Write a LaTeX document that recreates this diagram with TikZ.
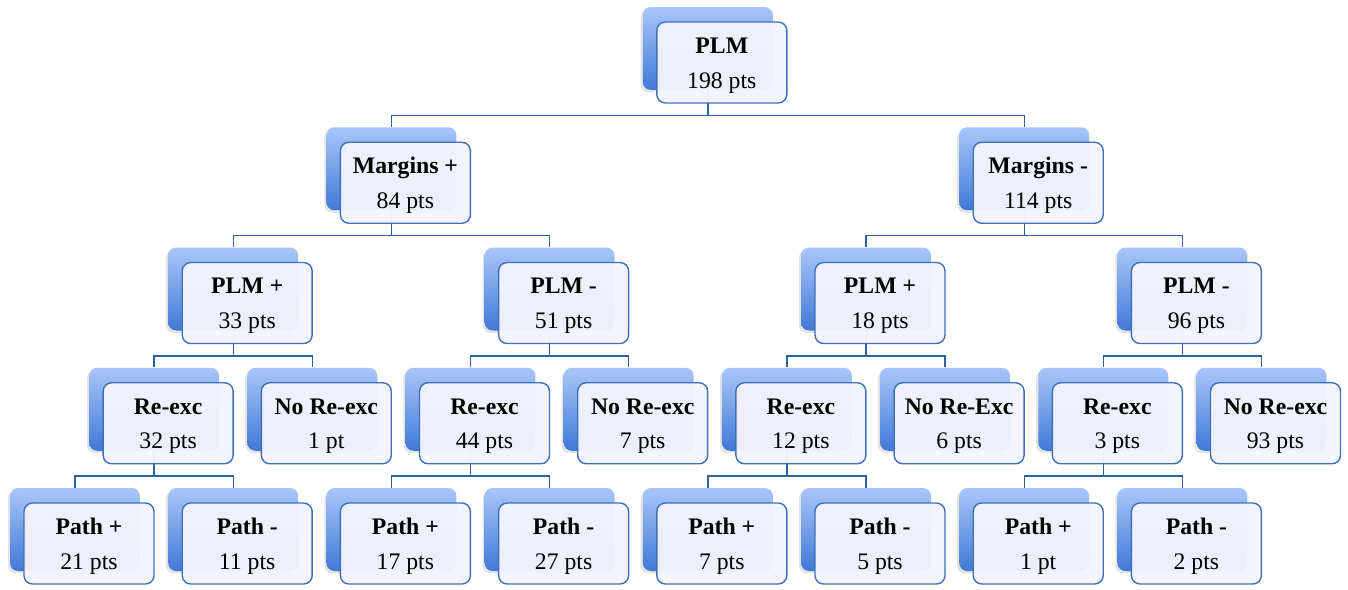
\documentclass[tikz,border=0pt]{standalone}
\usepackage{fontspec}
\setmainfont{Liberation Serif}
\usepackage{xcolor}
\usetikzlibrary{calc,backgrounds,shadows}
\definecolor{tiletop}{HTML}{A9C6FA}
\definecolor{tilebot}{HTML}{4079D6}
\definecolor{cardfill}{HTML}{F3F4FD}
\definecolor{cardline}{HTML}{3E72B8}
\definecolor{linkline}{HTML}{2F609F}

\begin{document}
\begin{tikzpicture}[x=.02cm,y=-.02cm,
 tile/.style={rounded corners=.16cm,minimum width=2.6cm,minimum height=1.66cm,top color=tiletop,bottom color=tilebot,draw=none,
  drop shadow={shadow xshift=-1.2pt,shadow yshift=-1.4pt,opacity=.22}},
 card/.style={rounded corners=.17cm,minimum width=2.6cm,minimum height=1.62cm,fill=cardfill,fill opacity=.96,
  draw=cardline,line width=.8pt},
 cardtext/.style={align=center,yshift=-.06cm,text opacity=1,font=\fontsize{13.5pt}{19.9pt}\selectfont},
 link/.style={draw=linkline,line width=.8pt}]
\useasboundingbox (0,0) rectangle (1348,589);
% tree: name / slot / level / title / score
\foreach \n/\s/\l/\t/\v in {r/8/0/PLM/198 pts,
 mp/4/1/Margins +/84 pts, mm/12/1/Margins -/114 pts,
 mpp/2/2/PLM +/33 pts, mpm/6/2/PLM -/51 pts, mmp/10/2/PLM +/18 pts, mmm/14/2/PLM -/96 pts,
 mppr/1/3/Re-exc/32 pts, mppn/3/3/No Re-exc/1 pt, mpmr/5/3/Re-exc/44 pts, mpmn/7/3/No Re-exc/7 pts,
 mmpr/9/3/Re-exc/12 pts, mmpn/11/3/No Re-Exc/6 pts, mmmr/13/3/Re-exc/3 pts, mmmn/15/3/No Re-exc/93 pts,
 mpprp/0/4/Path +/21 pts, mpprm/2/4/Path -/11 pts, mpmrp/4/4/Path +/17 pts, mpmrm/6/4/Path -/27 pts,
 mmprp/8/4/Path +/7 pts, mmprm/10/4/Path -/5 pts, mmmrp/12/4/Path +/1 pt, mmmrm/14/4/Path -/2 pts}{
 \pgfmathsetmacro{\px}{89+79.1*\s}
 \pgfmathsetmacro{\py}{62.5+120.25*\l}
 \node[tile] (b\n) at (\px-14,\py-14) {};
 \node[card,label={[cardtext]center:{\textbf{\t}\\\v}}] (f\n) at (\px,\py) {};
}
\begin{scope}[on background layer]
\foreach \p/\c in {r/mp,r/mm,mp/mpp,mp/mpm,mm/mmp,mm/mmm,
 mpp/mppr,mpp/mppn,mpm/mpmr,mpm/mpmn,mmp/mmpr,mmp/mmpn,mmm/mmmr,mmm/mmmn,
 mppr/mpprp,mppr/mpprm,mpmr/mpmrp,mpmr/mpmrm,mmpr/mmprp,mmpr/mmprm,mmmr/mmmrp,mmmr/mmmrm}{
 \coordinate (m) at ($(f\p.south)!.5!(b\c.north)$);
 \draw[link] (b\p.center) |- (m) -| (b\c.north);
}
\end{scope}
\end{tikzpicture}
\end{document}
